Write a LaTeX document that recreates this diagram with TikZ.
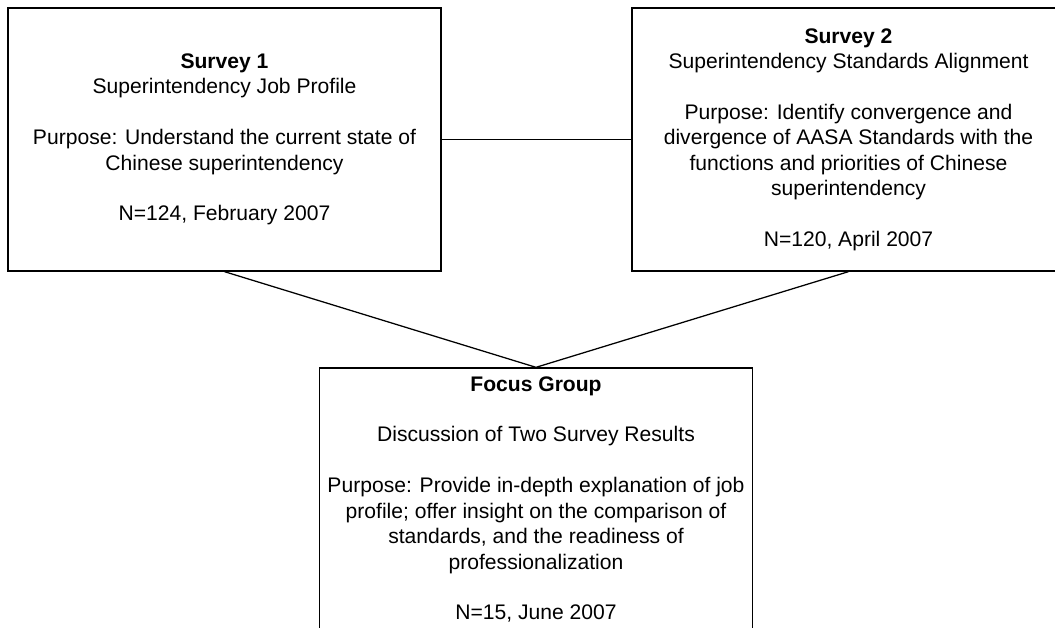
\documentclass[tikz,border=0pt]{standalone}
\usepackage{fontspec}
\setmainfont{Liberation Sans}
\begin{document}
\begin{tikzpicture}[x = 0.025cm, y = -0.025cm,
    studybox/.style = {draw, line width = 0.9pt, inner sep = 0pt,
      minimum width = 10.825cm, minimum height = 6.575cm,
      align = center, font = \fontsize{15}{18.07}\selectfont}]
      \useasboundingbox (0, 0) rectangle (1055, 628);
      \node [studybox] (survey1) at (224.5, 139.5) {\textbf{Survey 1}\\
        Superintendency Job Profile\\[18.07pt]
        Purpose: Understand the current state of\\
        Chinese superintendency\\[18.07pt]
        N=124, February 2007};
      \node [studybox] (survey2) at (848.5, 139.5) {\textbf{Survey 2}\\
        Superintendency Standards Alignment\\[18.07pt]
        Purpose: Identify convergence and\\
        divergence of AASA Standards with the\\
        functions and priorities of Chinese\\
        superintendency\\[18.07pt]
        N=120, April 2007};
      \node [studybox] (focus) at (536, 499.5) {\textbf{Focus Group}\\[18.07pt]
        Discussion of Two Survey Results\\[18.07pt]
        Purpose: Provide in-depth explanation of job\\
        profile; offer insight on the comparison of\\
        standards, and the readiness of\\
        professionalization\\[18.07pt]
        N=15, June 2007};
      \draw [line width = 0.9pt] (survey1) -- (survey2);
      \draw [line width = 0.9pt] (survey1.south) -- (focus.north) -- (survey2.south);
    \end{tikzpicture}
\end{document}
